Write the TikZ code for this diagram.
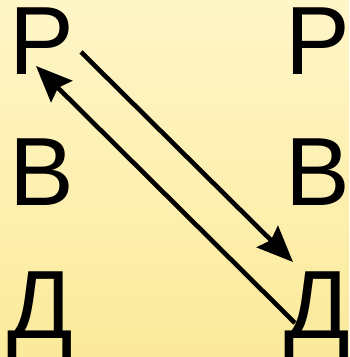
\documentclass[tikz,border=0pt]{standalone}
\usepackage{fontspec}
\setmainfont{Liberation Sans}
\usetikzlibrary{arrows.meta}
\definecolor{bgtop}{RGB}{255,246,200}
\definecolor{bgbot}{RGB}{251,234,155}
\begin{document}
\begin{tikzpicture}[x=1pt,y=1pt,
  letter/.style={inner sep=0pt,anchor=base,text height=70pt,text depth=14pt,font=\fontsize{97}{100}\selectfont},
  arr/.style={line width=4.6pt,-{Stealth[length=36pt,width=30pt,inset=5pt]}}]
\shade[top color=bgtop,bottom color=bgbot] (0,0) rectangle (349,357);
\useasboundingbox (0,0) rectangle (349,357);
\node[letter] (r1) at (42,282) {Р};
\node[letter] (v1) at (42,151) {В};
\node[letter] (d1) at (40,19) {Д};
\node[letter] (r2) at (318,282) {Р};
\node[letter] (v2) at (318,151) {В};
\node[letter] (d2) at (317,19) {Д};
\coordinate (a1s) at (81,305);
\coordinate (a1e) at (293,95);
\coordinate (a2s) at (295,34);
\coordinate (a2e) at (36,291);
\draw[arr] (a1s) -- (a1e);
\draw[arr] (a2s) -- (a2e);
\end{tikzpicture}
\end{document}
